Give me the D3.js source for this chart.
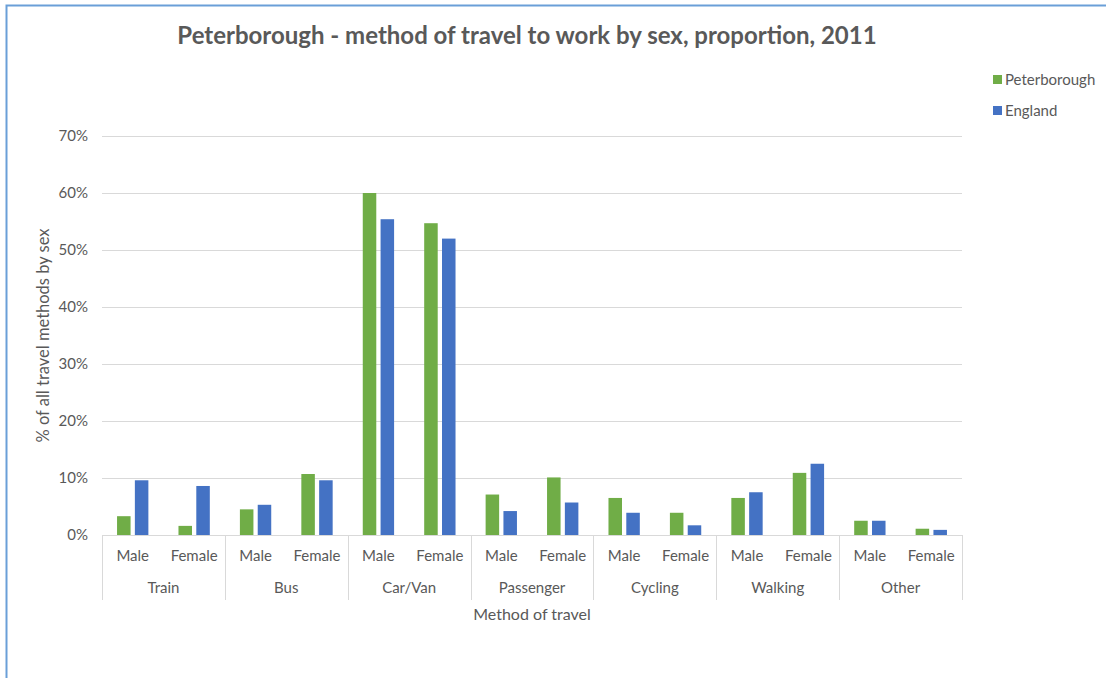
<!DOCTYPE html>
<html>
<head>
<meta charset="utf-8">
<script src="https://cdn.jsdelivr.net/npm/d3@7"></script>
<style>
  body { margin: 0; background: #fff; }
  svg text { font-family: Lato, "Open Sans", sans-serif; fill: #595959; }
</style>
</head>
<body>
<div id="chart"></div>
<script>
// travel method groups and the two sexes within each
const methods = ['Train', 'Bus', 'Car/Van', 'Passenger', 'Cycling', 'Walking', 'Other'];
const sexes = ['Male', 'Female'];
const seriesNames = ['Peterborough', 'England'];
const seriesColors = ['#70ad47', '#4472c4'];

// % of all travel methods, ordered Train M, Train F, Bus M, ...
const peterborough = [3.3, 1.6, 4.5, 10.7, 60.0, 54.7, 7.1, 10.1, 6.5, 3.9, 6.5, 10.9, 2.5, 1.1];
const england = [9.6, 8.6, 5.3, 9.6, 55.4, 52.0, 4.2, 5.7, 3.9, 1.7, 7.5, 12.5, 2.5, 0.9];

const yTicks = [0, 10, 20, 30, 40, 50, 60, 70];

const W = 1106, H = 678;
const MARGIN = { top: 136, right: 144, bottom: 143, left: 102 };
const innerW = W - MARGIN.left - MARGIN.right;
const innerH = H - MARGIN.top - MARGIN.bottom;

const rows = [];
methods.forEach((m, i) => {
  sexes.forEach((s, j) => {
    const k = i * 2 + j;
    rows.push({ method: m, sex: s, key: m + '|' + s, values: [peterborough[k], england[k]] });
  });
});

const svg = d3.select('#chart').append('svg')
  .attr('width', W)
  .attr('height', H);

// frame lines along top and left edge
svg.append('path')
  .attr('d', `M6.5,${H} V5.5 H${W}`)
  .attr('fill', 'none')
  .attr('stroke', '#6a9fd8')
  .attr('stroke-width', 2);

svg.append('text')
  .attr('x', 527)
  .attr('y', 44)
  .attr('text-anchor', 'middle')
  .attr('font-size', 24)
  .attr('font-weight', 'bold')
  .text('Peterborough - method of travel to work by sex, proportion, 2011');

const g = svg.append('g').attr('transform', `translate(${MARGIN.left},${MARGIN.top})`);

const x0 = d3.scaleBand().domain(methods).range([0, innerW]);
const x1 = d3.scaleBand().domain(sexes).range([0, x0.bandwidth()]);
const y = d3.scaleLinear().domain([0, 70]).range([innerH, 0]);

// bar width and spacing inside each sex slot
const barW = x1.bandwidth() * 0.22;
const barGap = x1.bandwidth() * 0.07;

// gridlines
g.append('g')
  .selectAll('line')
  .data(yTicks)
  .join('line')
  .attr('x1', 0)
  .attr('x2', innerW)
  .attr('y1', d => Math.round(y(d)) + 0.5)
  .attr('y2', d => Math.round(y(d)) + 0.5)
  .attr('stroke', '#d9d9d9')
  .attr('stroke-width', 1);

// y axis labels
g.append('g')
  .selectAll('text')
  .data(yTicks)
  .join('text')
  .attr('x', -14)
  .attr('y', d => y(d))
  .attr('dy', '0.35em')
  .attr('text-anchor', 'end')
  .attr('font-size', 15)
  .text(d => d + '%');

// bars
const slots = g.append('g')
  .selectAll('g')
  .data(rows)
  .join('g')
  .attr('transform', d => `translate(${x0(d.method) + x1(d.sex)},0)`);

slots.selectAll('rect')
  .data(d => d.values.map((v, i) => ({ v, i })))
  .join('rect')
  .attr('x', d => x1.bandwidth() / 2 - barGap / 2 - barW + d.i * (barW + barGap))
  .attr('y', d => y(d.v))
  .attr('width', barW)
  .attr('height', d => y(0) - y(d.v))
  .attr('fill', d => seriesColors[d.i]);

// category axis baseline and group dividers
g.append('line')
  .attr('x1', 0).attr('x2', innerW)
  .attr('y1', innerH + 0.5).attr('y2', innerH + 0.5)
  .attr('stroke', '#d9d9d9');

g.append('g')
  .selectAll('line')
  .data(methods.concat(['end']))
  .join('line')
  .attr('x1', d => Math.round(d === 'end' ? innerW : x0(d)) + 0.5)
  .attr('x2', d => Math.round(d === 'end' ? innerW : x0(d)) + 0.5)
  .attr('y1', innerH)
  .attr('y2', innerH + 65)
  .attr('stroke', '#d9d9d9');

g.append('g')
  .selectAll('text')
  .data(rows)
  .join('text')
  .attr('x', d => x0(d.method) + x1(d.sex) + x1.bandwidth() / 2)
  .attr('y', innerH + 26)
  .attr('text-anchor', 'middle')
  .attr('font-size', 15)
  .text(d => d.sex);

g.append('g')
  .selectAll('text')
  .data(methods)
  .join('text')
  .attr('x', d => x0(d) + x0.bandwidth() / 2)
  .attr('y', innerH + 58)
  .attr('text-anchor', 'middle')
  .attr('font-size', 15)
  .text(d => d);

// axis titles
svg.append('text')
  .attr('x', MARGIN.left + innerW / 2)
  .attr('y', 620)
  .attr('text-anchor', 'middle')
  .attr('font-size', 16)
  .text('Method of travel');

svg.append('text')
  .attr('transform', `translate(49,${MARGIN.top + innerH / 2}) rotate(-90)`)
  .attr('text-anchor', 'middle')
  .attr('font-size', 16.5)
  .text('% of all travel methods by sex');

// legend
const legend = svg.append('g')
  .selectAll('g')
  .data(seriesNames)
  .join('g')
  .attr('transform', (d, i) => `translate(993,${80 + i * 31})`);

legend.append('rect')
  .attr('x', 0).attr('y', -5)
  .attr('width', 9).attr('height', 9)
  .attr('fill', (d, i) => seriesColors[i]);

legend.append('text')
  .attr('x', 12)
  .attr('dy', '0.35em')
  .attr('font-size', 15)
  .text(d => d);
</script>
</body>
</html>
